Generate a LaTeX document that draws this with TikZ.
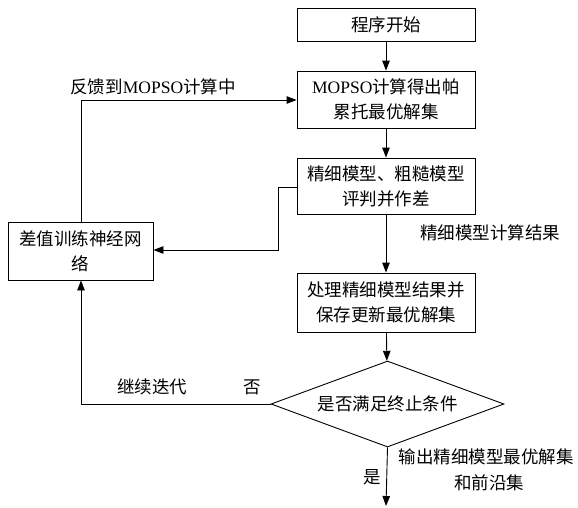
\documentclass[tikz,border=0pt]{standalone}
\usepackage{fontspec}
\setmainfont{Noto Sans CJK SC}
\newfontfamily\latinf{Liberation Serif}
\usetikzlibrary{arrows.meta,shapes.geometric}
\newcommand\fsz{\fontsize{17.5}{25}\selectfont}
\tikzset{
  box/.style={draw, line width=0.9pt, minimum width=178pt, align=center, inner sep=0pt, font=\fsz},
  dec/.style={draw, diamond, aspect=2.7, line width=0.9pt, minimum width=233pt, minimum height=86pt, inner sep=0pt, font=\fsz},
  lbl/.style={inner sep=0pt, font=\fsz, align=center},
  conn/.style={line width=0.9pt, -{Triangle[length=10pt,width=7.5pt]}},
  line/.style={line width=0.9pt}
}
\begin{document}
\begin{tikzpicture}[x=1pt,y=-1pt]
\useasboundingbox (0,0) rectangle (578,507);
\node[box, minimum height=33pt] (start) at (386,24.5) {程序开始};
\node[box, minimum height=57pt] (mopso) at (386,99.5) {{\latinf MOPSO}计算得出帕\\累托最优解集};
\node[box, minimum height=56pt] (judge) at (386,186) {精细模型、粗糙模型\\评判并作差};
\node[box, minimum width=145pt, minimum height=58pt] (nn) at (80.5,251) {差值训练神经网\\络};
\node[box, minimum height=59pt] (proc) at (386,302.5) {处理精细模型结果并\\保存更新最优解集};
\node[dec] (cond) at (387.5,404) {是否满足终止条件};
\coordinate (out) at (386,506);
\coordinate (fb) at (81,100);
\coordinate (j1) at (278,187);
\coordinate (j2) at (278,250);
\coordinate (c1) at (81,404);

\draw[conn] (start) -- (mopso);
\draw[conn] (mopso) -- (judge);
\draw[conn] (judge) -- (proc);
\draw[conn] (proc) -- (cond);
\draw[conn] (cond.south) -- (out);
\draw[conn] (nn.north -| fb) -- (fb) -- (fb -| mopso.west);
\draw[conn] (j1 -| judge.west) -- (j1) -- (j2) -- (j2 -| nn.east);
\draw[conn] (cond.west) -- (c1) -- (c1 |- nn.south);

\node[lbl] (l1) at (153,87) {反馈到{\latinf MOPSO}计算中};
\node[lbl] (l2) at (490,233) {精细模型计算结果};
\node[lbl] (l3) at (152,387) {继续迭代};
\node[lbl] (l4) at (252,387) {否};
\node[lbl] (l5) at (372,477) {是};
\node[lbl] (l6) at (486,457) {输出精细模型最优解集};
\node[lbl] (l7) at (489,483) {和前沿集};
\end{tikzpicture}
\end{document}
